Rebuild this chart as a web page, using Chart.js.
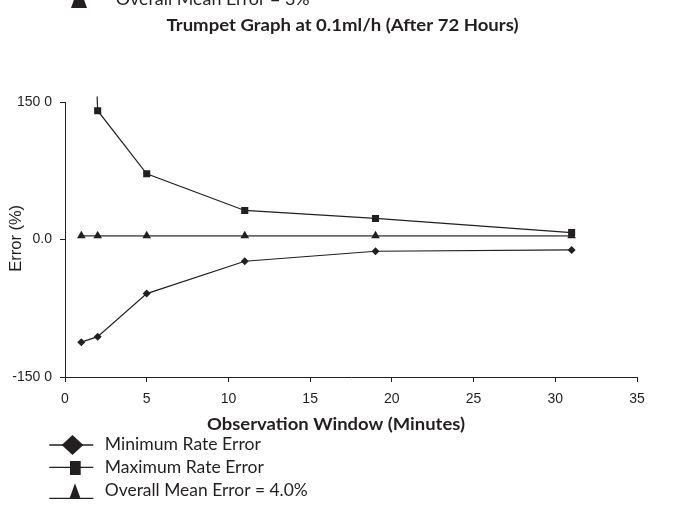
<!DOCTYPE html>
<html>
<head>
<meta charset="utf-8">
<script src="https://cdn.jsdelivr.net/npm/chart.js@4/dist/chart.umd.min.js"></script>
<style>
html,body{margin:0;padding:0;background:#fff;}
#wrap{width:685px;height:506px;position:relative;}
</style>
</head>
<body>
<div id="wrap"><canvas id="c" width="685" height="506"></canvas></div>
<script>
// ---- data ----
const chartTitle = 'Trumpet Graph at 0.1ml/h (After 72 Hours)';
const xAxisTitle = 'Observation Window (Minutes)';
const yAxisTitle = 'Error (%)';
const windows = [1, 2, 5, 11, 19, 31];
const minRateError = [-112, -106, -59, -23.7, -12.8, -11.4];
const maxRateError = [600, 140.5, 71.7, 31.7, 23, 7.6];
const meanError = [4.0, 4.0, 4.0, 4.0, 4.0, 4.0];
const seriesLabels = ['Minimum Rate Error', 'Maximum Rate Error', 'Overall Mean Error = 4.0%'];
const cutLegendLabel = 'Overall Mean Error = 3%';
const yTickValues = [-150, 0, 150];
const yTickLabels = ['-150 0', '0.0', '150 0'];
const xTickValues = [0, 5, 10, 15, 20, 25, 30, 35];

// ---- styling ----
const INK = '#231f20';
const MEAN_LINE = '#6a6a6a';
const TICK_FONT = { family: "'Liberation Sans', Arial, sans-serif", size: 14 };
const SANS = "Lato, 'Open Sans', sans-serif";

function pts(ys) { return windows.map((x, i) => ({ x: x, y: ys[i] })); }

function fitText(ctx, text, x, y, font, targetW, align) {
  ctx.font = font;
  const w = ctx.measureText(text).width || 1;
  const sx = targetW / w;
  ctx.save();
  ctx.translate(x, y);
  ctx.scale(sx, 1);
  ctx.textAlign = align;
  ctx.textBaseline = 'alphabetic';
  ctx.fillText(text, 0, 0);
  ctx.restore();
}

function drawDiamond(ctx, cx, cy, hw, hh) {
  ctx.beginPath();
  ctx.moveTo(cx - hw, cy); ctx.lineTo(cx, cy - hh); ctx.lineTo(cx + hw, cy); ctx.lineTo(cx, cy + hh);
  ctx.closePath(); ctx.fill();
}
function drawTri(ctx, cx, baseY, w, h) {
  ctx.beginPath();
  ctx.moveTo(cx, baseY - h); ctx.lineTo(cx + w / 2, baseY); ctx.lineTo(cx - w / 2, baseY);
  ctx.closePath(); ctx.fill();
}

const textPlugin = {
  id: 'texts',
  afterDraw(chart) {
    const ctx = chart.ctx;
    ctx.save();
    ctx.fillStyle = INK;
    ctx.strokeStyle = INK;

    // cut-off legend row at very top
    drawTri(ctx, 79, 7.9, 16, 22);
    fitText(ctx, cutLegendLabel, 115.7, 5.2, '18px ' + SANS, 194, 'left');

    // title
    fitText(ctx, chartTitle, 342.5, 30.7, 'bold 17px ' + SANS, 352, 'center');

    // x axis title
    fitText(ctx, xAxisTitle, 336, 429.5, 'bold 17px ' + SANS, 258, 'center');

    // y axis title
    ctx.save();
    ctx.translate(21, 238.3);
    ctx.rotate(-Math.PI / 2);
    fitText(ctx, yAxisTitle, 0, 0, "16px 'Liberation Sans', Arial, sans-serif", 66.7, 'center');
    ctx.restore();

    // legend
    const rows = [445, 467.3, 498.3];
    const baselines = [450, 473.3, 495.7];
    const widths = [156, 159, 203];
    ctx.lineWidth = 1.3;
    rows.forEach((ly, i) => {
      ctx.beginPath();
      ctx.moveTo(49.3, ly); ctx.lineTo(93.3, ly); ctx.stroke();
      if (i === 0) drawDiamond(ctx, 72.5, 445, 10.8, 10);
      if (i === 1) ctx.fillRect(70, 461, 10.7, 14);
      if (i === 2) drawTri(ctx, 75, 499, 11.4, 15.7);
      fitText(ctx, seriesLabels[i], 104.8, baselines[i], '17px ' + SANS, widths[i], 'left');
    });
    ctx.restore();
  }
};

const clipArea = { left: 10, top: 5.5, right: 10, bottom: 10 };

new Chart(document.getElementById('c'), {
  type: 'line',
  data: {
    datasets: [
      {
        label: seriesLabels[0], data: pts(minRateError),
        borderColor: INK, borderWidth: 1.2, pointStyle: 'rectRot', pointRadius: 4,
        pointBackgroundColor: INK, pointBorderColor: INK, pointBorderWidth: 0, clip: clipArea
      },
      {
        label: seriesLabels[1], data: pts(maxRateError),
        borderColor: INK, borderWidth: 1.2, pointStyle: 'rect', pointRadius: 5,
        pointBackgroundColor: INK, pointBorderColor: INK, pointBorderWidth: 0, clip: clipArea
      },
      {
        label: seriesLabels[2], data: pts(meanError),
        borderColor: MEAN_LINE, borderWidth: 1.8, pointStyle: 'triangle', pointRadius: 5,
        pointBackgroundColor: INK, pointBorderColor: INK, pointBorderWidth: 0, clip: clipArea
      }
    ]
  },
  options: {
    responsive: false,
    devicePixelRatio: 1,
    animation: false,
    layout: { padding: { top: 102, right: 48, left: 0, bottom: 0 } },
    plugins: { legend: { display: false }, title: { display: false }, tooltip: { enabled: false } },
    elements: { line: { tension: 0 } },
    scales: {
      x: {
        type: 'linear', min: 0, max: 35,
        afterBuildTicks: s => { s.ticks = xTickValues.map(v => ({ value: v })); },
        afterFit: s => { s.height = 129; },
        grid: { display: true, drawOnChartArea: false, drawTicks: true, tickLength: 5, color: INK, lineWidth: 1 },
        border: { display: true, color: INK, width: 1 },
        ticks: { font: TICK_FONT, color: INK, padding: 9, maxRotation: 0, autoSkip: false }
      },
      y: {
        type: 'linear', min: -150, max: 150,
        afterBuildTicks: s => { s.ticks = yTickValues.map(v => ({ value: v })); },
        afterFit: s => { s.width = 65; },
        grid: { display: true, drawOnChartArea: false, drawTicks: true, tickLength: 5, color: INK, lineWidth: 1 },
        border: { display: true, color: INK, width: 1 },
        ticks: {
          font: TICK_FONT, color: INK, padding: 8, autoSkip: false,
          callback: v => { const i = yTickValues.indexOf(v); return i >= 0 ? yTickLabels[i] : ''; }
        }
      }
    }
  },
  plugins: [textPlugin]
});
</script>
</body>
</html>
